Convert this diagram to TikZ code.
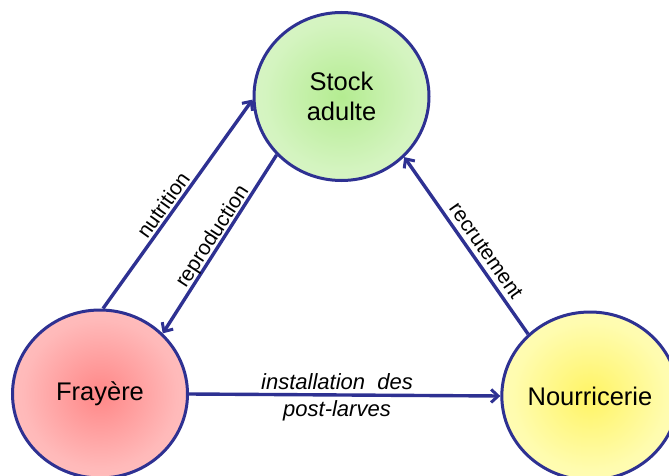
\documentclass[tikz,border=0pt]{standalone}
\usepackage{fontspec}
\setmainfont{Liberation Sans}
\usetikzlibrary{arrows.meta,shapes.geometric}
\definecolor{edgeblue}{RGB}{46,49,146}
\definecolor{gin}{RGB}{180,236,145}
\definecolor{gmid}{RGB}{212,244,192}
\definecolor{gout}{RGB}{230,249,218}
\definecolor{rin}{RGB}{255,135,135}
\definecolor{rmid}{RGB}{255,185,185}
\definecolor{rout}{RGB}{255,210,210}
\definecolor{yin}{RGB}{255,244,100}
\definecolor{ymid}{RGB}{255,252,175}
\definecolor{yout}{RGB}{255,255,210}
\pgfdeclareradialshading{gshade}{\pgfpoint{0bp}{0bp}}{color(0bp)=(gin); color(22bp)=(gmid); color(50bp)=(gout)}
\pgfdeclareradialshading{rshade}{\pgfpoint{0bp}{0bp}}{color(0bp)=(rin); color(22bp)=(rmid); color(50bp)=(rout)}
\pgfdeclareradialshading{yshade}{\pgfpoint{0bp}{0bp}}{color(0bp)=(yin); color(22bp)=(ymid); color(50bp)=(yout)}
\tikzset{
  blob/.style={ellipse, draw=edgeblue, line width=3pt, minimum width=175pt, minimum height=168pt,
    inner sep=0pt, align=center, font=\fontsize{25.5}{30}\selectfont},
  link/.style={draw=edgeblue, line width=3.4pt, -{Straight Barb[length=7pt,width=13pt,line width=3pt]}},
  lab/.style={font=\fontsize{21}{24}\selectfont, inner sep=0pt},
  ilab/.style={font=\fontsize{22}{26}\selectfont\itshape, inner sep=0pt}
}
\begin{document}
\begin{tikzpicture}[x=1pt,y=-1pt]
\useasboundingbox (0,0) rectangle (669,476);
\clip (0,0) rectangle (669,476);
\node[blob, shading=gshade] (S) at (341.5,96.5) {Stock\\adulte};
\node[blob, shading=rshade] (F) at (100,394) {Fray\`ere};
\node[blob, shading=yshade] (N) at (590,396) {Nourricerie};
\draw[link] (F.88.6) -- (S.182);
\draw[link] (S.222) -- (F.44.5);
\draw[link] (N.135) -- (S.316);
\draw[link] (F.east) -- (N.west);
\node[lab, rotate=54.5] (lnut) at (163,205) {nutrition};
\node[lab, rotate=57] (lrep) at (213,237) {reproduction};
\node[lab, rotate=-55] (lrec) at (486,251) {recrutement};
\node[ilab] (linst) at (337,382) {installation\ \ des};
\node[ilab] (lpost) at (337,411) {post-larves};
\end{tikzpicture}
\end{document}
